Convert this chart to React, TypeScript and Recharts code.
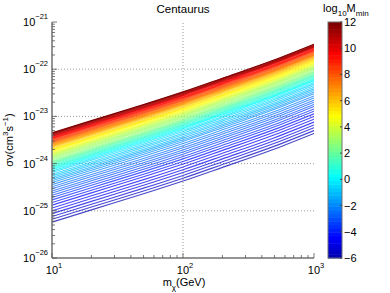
import { LineChart, Line, XAxis, YAxis, ReferenceLine } from "recharts";

// dark matter mass (GeV) where the curves were read
const masses = [10, 20, 50, 100, 200, 500, 1000];
// log10(sigma v) of the top curve (log10 M_min = 12)
const topLogSigma = [-23.35, -23.09, -22.75, -22.48, -22.19, -21.8, -21.47];
// log10 M_min of each drawn curve
const massLevels = [
  12, 11.75, 11.5, 11.25, 11, 10.75, 10.5, 10.25, 10, 9.75, 9.5, 9.25, 9, 8.75, 8.5, 8.25, 8, 7.75, 7.5, 7.25,
  7, 6.75, 6.5, 6.25, 6, 5.75, 5.5, 5.25, 5, 4.75, 4.5, 4.25, 4, 3.75, 3.5, 3.25, 3, 2.75, 2.5, 2.25, 2, 1.75,
  1.5, 1.25, 1, 0.75, 0.5, 0.25, 0, -0.25, -0.5, -0.75, -1, -1.25, -1.5, -1.75, -2, -2.25, -2.5, -2.75, -3,
  -3.25, -3.5, -3.75, -4, -4.25, -4.5, -4.75, -5, -5.25, -5.5, -5.75, -6,
];
// how many decades each curve lies below the top one
const levelDrops = [
  0, 0.01, 0.02, 0.03, 0.04, 0.05, 0.06, 0.07, 0.08, 0.095, 0.11, 0.12, 0.13, 0.145, 0.16, 0.175, 0.19, 0.205,
  0.22, 0.23, 0.24, 0.255, 0.27, 0.285, 0.3, 0.32, 0.34, 0.355, 0.37, 0.39, 0.41, 0.43, 0.45, 0.47, 0.49, 0.51,
  0.53, 0.555, 0.58, 0.6, 0.62, 0.64, 0.66, 0.68, 0.7, 0.72, 0.74, 0.76, 0.78, 0.81, 0.84, 0.875, 0.91, 0.945,
  0.98, 1.015, 1.05, 1.095, 1.14, 1.185, 1.23, 1.275, 1.32, 1.37, 1.42, 1.475, 1.53, 1.59, 1.65, 1.71, 1.77,
  1.83, 1.89,
];

const xMajor = [1, 2, 3];
const yMajor = [-26, -25, -24, -23, -22, -21];
const colorbarTicks = [-6, -4, -2, 0, 2, 4, 6, 8, 10, 12];

const minorSteps = [2, 3, 4, 5, 6, 7, 8, 9];
const withMinor = (major: number[]) => {
  const out: number[] = [];
  major.forEach((d, i) => {
    out.push(d);
    if (i < major.length - 1) minorSteps.forEach((k) => out.push(d + Math.log10(k)));
  });
  return out;
};
const xTicks = withMinor(xMajor);
const yTicks = withMinor(yMajor);

const data = masses.map((m, i) => {
  const row: Record<string, number> = { x: Math.log10(m) };
  massLevels.forEach((_, j) => {
    row[`c${j}`] = topLogSigma[i] - levelDrops[j];
  });
  return row;
});

// jet-like map, blue end a bit brighter than matlab's
function jet(v: number) {
  const s = Math.round(((v + 6) / 18) * 63) / 63;
  const t = 0.05 + 0.95 * s;
  const c = (u: number) => Math.round(Math.max(0, Math.min(1, 1.5 - Math.abs(4 * t - u))) * 255);
  return `rgb(${c(3)},${c(2)},${c(1)})`;
}

const FONT = "'Liberation Sans', Arial, sans-serif";
const isMajor = (v: number) => Math.abs(v - Math.round(v)) < 1e-6;

function LeftTick(props: any) {
  const { x, y, payload } = props;
  const major = isMajor(payload.value);
  return (
    <g>
      <line x1={x} x2={x + (major ? 5 : 3)} y1={y} y2={y} stroke="#555" strokeWidth={0.8} />
      {major && (
        <text x={x - 4} y={y + 4} textAnchor="end" fontSize={11} fontFamily={FONT} fill="#000">
          <tspan>10</tspan>
          <tspan dy={-7} fontSize={7.5}>{`\u2212${Math.abs(payload.value)}`}</tspan>
        </text>
      )}
    </g>
  );
}

function RightTick(props: any) {
  const { x, y, payload } = props;
  const major = isMajor(payload.value);
  return <line x1={x} x2={x - (major ? 5 : 3)} y1={y} y2={y} stroke="#555" strokeWidth={0.8} />;
}

function BottomTick(props: any) {
  const { x, y, payload } = props;
  const major = isMajor(payload.value);
  return (
    <g>
      <line x1={x} x2={x} y1={y} y2={y - (major ? 5 : 3)} stroke="#555" strokeWidth={0.8} />
      {major && (
        <text x={x + 2} y={y + 16} textAnchor="middle" fontSize={11} fontFamily={FONT} fill="#000">
          <tspan>10</tspan>
          <tspan dy={-6} fontSize={7.5}>{`${payload.value}`}</tspan>
        </text>
      )}
    </g>
  );
}

function TopTick(props: any) {
  const { x, y, payload } = props;
  const major = isMajor(payload.value);
  return <line x1={x} x2={x} y1={y} y2={y + (major ? 5 : 3)} stroke="#555" strokeWidth={0.8} />;
}

const CB = { left: 328, width: 14, top: 22, bottom: 258 };
const cbY = (v: number) => CB.bottom - ((v + 6) / 18) * (CB.bottom - CB.top);
const cbCells = Array.from({ length: 64 }, (_, i) => i);

export default function App() {
  const axisStroke = "#707070";
  return (
    <div style={{ position: "absolute", left: 0, top: 0, width: 390, height: 293, background: "#fff" }}>
      <LineChart width={390} height={293} data={data} margin={{ top: 22, right: 76, bottom: 0, left: 0 }}>
        <XAxis
          xAxisId="b"
          dataKey="x"
          type="number"
          domain={[1, 3]}
          allowDataOverflow
          ticks={xTicks}
          interval={0}
          tickSize={0}
          tickMargin={0}
          height={35}
          tick={(p: any) => <BottomTick {...p} />}
          axisLine={{ stroke: axisStroke, strokeWidth: 1.5 }}
        />
        <XAxis
          xAxisId="t"
          orientation="top"
          dataKey="x"
          type="number"
          domain={[1, 3]}
          allowDataOverflow
          ticks={xTicks}
          interval={0}
          tickSize={0}
          tickMargin={0}
          height={0}
          tick={(p: any) => <TopTick {...p} />}
          axisLine={{ stroke: axisStroke, strokeWidth: 1 }}
        />
        <YAxis
          yAxisId="l"
          type="number"
          domain={[-26, -21]}
          allowDataOverflow
          ticks={yTicks}
          interval={0}
          tickSize={0}
          tickMargin={0}
          width={52}
          tick={(p: any) => <LeftTick {...p} />}
          axisLine={{ stroke: axisStroke, strokeWidth: 1.5 }}
        />
        <YAxis
          yAxisId="r"
          orientation="right"
          type="number"
          domain={[-26, -21]}
          allowDataOverflow
          ticks={yTicks}
          interval={0}
          tickSize={0}
          tickMargin={0}
          width={0}
          tick={(p: any) => <RightTick {...p} />}
          axisLine={{ stroke: axisStroke, strokeWidth: 1 }}
        />
        {[-25, -24, -23, -22].map((v) => (
          <ReferenceLine key={`gy${v}`} xAxisId="b" yAxisId="l" y={v} stroke="#9a9a9a" strokeDasharray="1 2" />
        ))}
        <ReferenceLine xAxisId="b" yAxisId="l" x={2} stroke="#9a9a9a" strokeDasharray="1 2" />
        {massLevels
          .map((lv, j) => ({ lv, j }))
          .reverse()
          .map(({ lv, j }) => (
            <Line
              key={`c${j}`}
              xAxisId="b"
              yAxisId="l"
              type="monotone"
              dataKey={`c${j}`}
              stroke={jet(lv)}
              strokeWidth={1.1}
              strokeOpacity={lv === 12 ? 1 : 0.72}
              dot={false}
              isAnimationActive={false}
            />
          ))}
      </LineChart>
      <svg width={390} height={293} style={{ position: "absolute", left: 0, top: 0, pointerEvents: "none" }}>
        <text x={183} y={13} textAnchor="middle" fontSize={11.5} fontFamily={FONT}>
          Centaurus
        </text>
        <text x={184} y={286} textAnchor="middle" fontSize={11} fontFamily={FONT}>
          <tspan>m</tspan>
          <tspan dy={4} fontSize={8}>χ</tspan>
          <tspan dy={-4}>(GeV)</tspan>
        </text>
        <text
          transform="translate(13,140) rotate(-90)"
          x={0}
          y={0}
          textAnchor="middle"
          fontSize={11}
          fontFamily={FONT}
        >
          <tspan>σv(cm</tspan>
          <tspan dy={-5} fontSize={8}>3</tspan>
          <tspan dy={5}>s</tspan>
          <tspan dy={-5} fontSize={8}>−1</tspan>
          <tspan dy={5}>)</tspan>
        </text>
        <text x={323} y={12} fontSize={11} fontFamily={FONT}>
          <tspan>log</tspan>
          <tspan dy={4} fontSize={8}>10</tspan>
          <tspan dy={-4}>M</tspan>
          <tspan dy={4} fontSize={8}>min</tspan>
        </text>
        {cbCells.map((i) => {
          const h = (CB.bottom - CB.top) / 64;
          const v = -6 + (i / 63) * 18;
          return (
            <rect
              key={i}
              x={CB.left}
              y={CB.bottom - (i + 1) * h}
              width={CB.width}
              height={h + 0.5}
              fill={jet(v)}
            />
          );
        })}
        <rect x={CB.left} y={CB.top} width={CB.width} height={CB.bottom - CB.top} fill="none" stroke="#707070" />
        {colorbarTicks.map((v) => (
          <g key={v}>
            <line x1={CB.left + CB.width - 2} x2={CB.left + CB.width} y1={cbY(v)} y2={cbY(v)} stroke="#444" />
            <text x={CB.left + CB.width + 2} y={cbY(v) + 4} fontSize={11} fontFamily={FONT}>
              {v < 0 ? `\u2212${Math.abs(v)}` : `${v}`}
            </text>
          </g>
        ))}
      </svg>
    </div>
  );
}
